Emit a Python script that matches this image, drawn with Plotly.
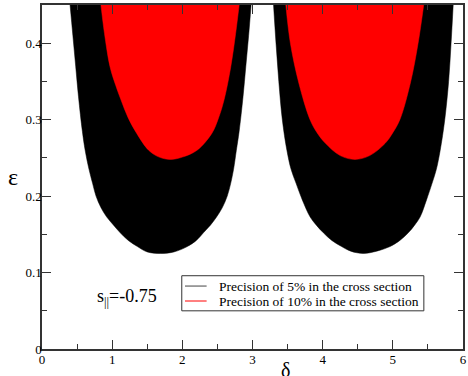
import plotly.graph_objects as go

# Boundary of the 5% precision region, first bowl (left edge down, right edge up)
black1_delta = [0.40, 0.44, 0.48, 0.52, 0.575, 0.615, 0.67, 0.72, 0.77, 0.84, 0.92, 1.02, 1.115, 1.23, 1.36, 1.50, 1.69, 1.88, 2.07, 2.20, 2.30, 2.40, 2.49, 2.57, 2.64, 2.69, 2.73, 2.77, 2.81, 2.865, 2.905, 2.945, 2.98]
black1_eps   = [0.45, 0.41, 0.37, 0.33, 0.285, 0.26, 0.235, 0.217, 0.20, 0.185, 0.173, 0.162, 0.152, 0.142, 0.134, 0.127, 0.125, 0.127, 0.134, 0.142, 0.152, 0.162, 0.173, 0.185, 0.20, 0.217, 0.235, 0.26, 0.285, 0.33, 0.37, 0.41, 0.45]

# Boundary of the 5% precision region, second bowl
black2_delta = [3.30, 3.335, 3.375, 3.425, 3.49, 3.55, 3.62, 3.71, 3.82, 3.91, 4.01, 4.13, 4.27, 4.40, 4.58, 4.77, 4.96, 5.10, 5.22, 5.31, 5.39, 5.48, 5.56, 5.62, 5.675, 5.74, 5.795, 5.83, 5.86]
black2_eps   = [0.45, 0.40, 0.35, 0.30, 0.26, 0.235, 0.217, 0.195, 0.173, 0.162, 0.152, 0.142, 0.134, 0.128, 0.125, 0.128, 0.134, 0.142, 0.152, 0.162, 0.173, 0.195, 0.217, 0.235, 0.26, 0.30, 0.35, 0.40, 0.45]

# Boundary of the 10% precision region, first bowl
red1_delta = [0.84, 0.89, 0.97, 1.05, 1.125, 1.23, 1.35, 1.52, 1.67, 1.83, 2.00, 2.21, 2.42, 2.515, 2.595, 2.69, 2.76, 2.81]
red1_eps   = [0.45, 0.413, 0.369, 0.345, 0.326, 0.302, 0.282, 0.26, 0.251, 0.248, 0.251, 0.26, 0.282, 0.302, 0.326, 0.369, 0.413, 0.45]

# Boundary of the 10% precision region, second bowl
red2_delta = [3.475, 3.54, 3.66, 3.82, 3.92, 4.04, 4.25, 4.46, 4.67, 4.89, 5.00, 5.10, 5.25, 5.36, 5.44]
red2_eps   = [0.45, 0.40, 0.348, 0.30, 0.283, 0.269, 0.253, 0.248, 0.253, 0.269, 0.283, 0.30, 0.348, 0.40, 0.45]

legend_names = ["Precision of 5% in the cross section", "Precision of 10% in the cross section"]
legend_colors = ["#444444", "#ff0000"]
x_ticks = [0, 1, 2, 3, 4, 5, 6]
y_ticks = [0, 0.1, 0.2, 0.3, 0.4]

SERIF = "Liberation Serif, Times New Roman, serif"

fig = go.Figure()
for d, e, c in [(black1_delta, black1_eps, "black"), (black2_delta, black2_eps, "black"),
                (red1_delta, red1_eps, "#ff0000"), (red2_delta, red2_eps, "#ff0000")]:
    fig.add_trace(go.Scatter(x=d, y=e, mode="lines", fill="toself", fillcolor=c,
                             line=dict(color=c, width=0.5, shape="spline", smoothing=1.0),
                             showlegend=False, hoverinfo="skip"))

axis_common = dict(showline=True, linecolor="#333333", linewidth=1.5, mirror="ticks",
                   ticks="inside", ticklen=9, tickwidth=1, tickcolor="#333333",
                   showgrid=False, zeroline=False, automargin=False,
                   tickfont=dict(family=SERIF, size=13, color="black"))

fig.update_xaxes(range=[0, 6], tickvals=x_ticks, ticklabelstandoff=-2,
                 minor=dict(dtick=0.5, ticks="inside", ticklen=5, tickcolor="#333333", showgrid=False),
                 **axis_common)
fig.update_yaxes(range=[0, 0.45], tickvals=y_ticks, ticklabelstandoff=-4,
                 minor=dict(dtick=0.05, ticks="inside", ticklen=5, tickcolor="#333333", showgrid=False),
                 **axis_common)

# axis titles as annotations
fig.add_annotation(x=0.578, y=0, xref="paper", yref="paper", yshift=-8, xanchor="center", yanchor="top",
                   text="δ", showarrow=False, font=dict(family=SERIF, size=20, color="black"))
fig.add_annotation(x=0, y=0.5, xref="paper", yref="paper", xshift=-22, xanchor="right", yanchor="middle",
                   text="ε", showarrow=False, font=dict(family=SERIF, size=24, color="black"))

fig.add_annotation(x=0.76, y=0.068, xref="x", yref="y", xanchor="left", yanchor="middle",
                   text="s<sub>||</sub>=-0.75", showarrow=False,
                   font=dict(family=SERIF, size=18, color="black"))

# hand-made legend box (line samples + labels)
fig.add_shape(type="rect", xref="paper", yref="paper", x0=0.332, x1=0.907, y0=0.111, y1=0.213,
              line=dict(color="#333333", width=1), fillcolor="white", layer="above")
rows_y = [0.183, 0.1395]
for name, c, ry in zip(legend_names, legend_colors, rows_y):
    fig.add_shape(type="line", xref="paper", yref="paper", x0=0.3397, x1=0.391, y0=ry, y1=ry,
                  line=dict(color=c, width=1), layer="above")
    fig.add_annotation(x=0.415, y=ry, xref="paper", yref="paper", xanchor="left", yanchor="middle",
                       text=name, showarrow=False,
                       font=dict(family=SERIF, size=13.5, color="black"))

fig.update_layout(
    width=468, height=376,
    margin=dict(l=42, r=5, t=5, b=27),
    plot_bgcolor="white", paper_bgcolor="white",
    showlegend=False,
)

fig.write_html("out.html", config={"displayModeBar": False},
               post_script="document.body.style.margin='0';")
